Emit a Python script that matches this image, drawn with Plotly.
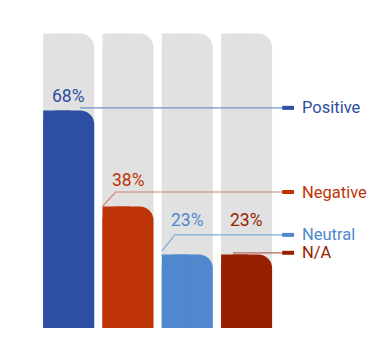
import plotly.graph_objects as go

# ---- data ----
categories = ["Positive", "Negative", "Neutral", "N/A"]
values = [68, 38, 23, 23]
pct_labels = ["68%", "38%", "23%", "23%"]
track_max = 92

# ---- styles ----
colors = ["#2d4ea3", "#bf3407", "#4f88cc", "#972000"]
line_colors = ["#7590d0", "#d08474", "#80aadf", "#b8695a"]
track_color = "#e1e1e1"
FONT = "Roboto, Arial, sans-serif"

# ---- layout positions (data units) ----
label_y = [72.5, 46.3, 33.8, 33.8]
legend_y = [68.8, 42.5, 29.1, 23.5]
leader_start_dx = [0.19, -0.43, -0.43, -0.23]
leader_start_dy = [None, 0.0, 1.0, None]
leader_bend_dx = [0.19, -0.21, -0.21, -0.23]
dash_x0, dash_x1, text_x = 3.60, 3.80, 3.90

BW = 0.86
xs = list(range(len(categories)))

fig = go.Figure()

# track (background) bars: full rounded + square left half
fig.add_trace(go.Bar(x=xs, y=[track_max] * len(xs), width=BW,
                     marker=dict(color=track_color, cornerradius=14, line=dict(width=0)),
                     hoverinfo="skip"))
fig.add_trace(go.Bar(x=xs, y=[track_max] * len(xs), width=BW / 2 + 0.03, offset=-BW / 2,
                     marker=dict(color=track_color, line=dict(width=0)), hoverinfo="skip"))
# value bars on an overlaying axis so their corners are rounded too
fig.add_trace(go.Bar(x=xs, y=values, width=BW, xaxis="x2",
                     marker=dict(color=colors, cornerradius=14, line=dict(width=0)),
                     hovertext=categories))
fig.add_trace(go.Bar(x=xs, y=values, width=BW / 2 + 0.03, offset=-BW / 2, xaxis="x2",
                     marker=dict(color=colors, line=dict(width=0)), hoverinfo="skip"))

annotations = []
for i, cat in enumerate(categories):
    ly = legend_y[i]
    sy = ly if leader_start_dy[i] is None else values[i] + leader_start_dy[i]
    lx = [i + leader_start_dx[i], i + leader_bend_dx[i], dash_x0]
    lyy = [sy, ly, ly]
    fig.add_trace(go.Scatter(x=lx, y=lyy, mode="lines", xaxis="x2",
                             line=dict(color=line_colors[i], width=1.2), hoverinfo="skip"))
    fig.add_trace(go.Scatter(x=[dash_x0, dash_x1], y=[ly, ly], mode="lines", xaxis="x2",
                             line=dict(color=colors[i], width=4), hoverinfo="skip"))
    annotations.append(dict(x=text_x, y=ly, text=cat, showarrow=False,
                            xref="x2", yref="y", height=17, valign="middle",
                            xanchor="left", yanchor="middle",
                            font=dict(family=FONT, size=16.5, color=colors[i])))
    annotations.append(dict(x=i, y=label_y[i], text=pct_labels[i], showarrow=False,
                            xref="x2", yref="y",
                            xanchor="center", yanchor="middle",
                            font=dict(family=FONT, size=17.5, color=colors[i])))

x0 = -68.7 / 59.3
xr = [x0, x0 + 389 / 59.3]
fig.update_layout(
    width=389, height=342,
    margin=dict(l=0, r=0, t=8, b=14),
    barmode="overlay",
    showlegend=False,
    plot_bgcolor="white", paper_bgcolor="white",
    xaxis=dict(range=xr, visible=False, fixedrange=True),
    xaxis2=dict(range=xr, visible=False, fixedrange=True, overlaying="x", anchor="y"),
    yaxis=dict(range=[0, 100], visible=False, fixedrange=True),
    annotations=annotations,
)

fig.write_html("out.html")
